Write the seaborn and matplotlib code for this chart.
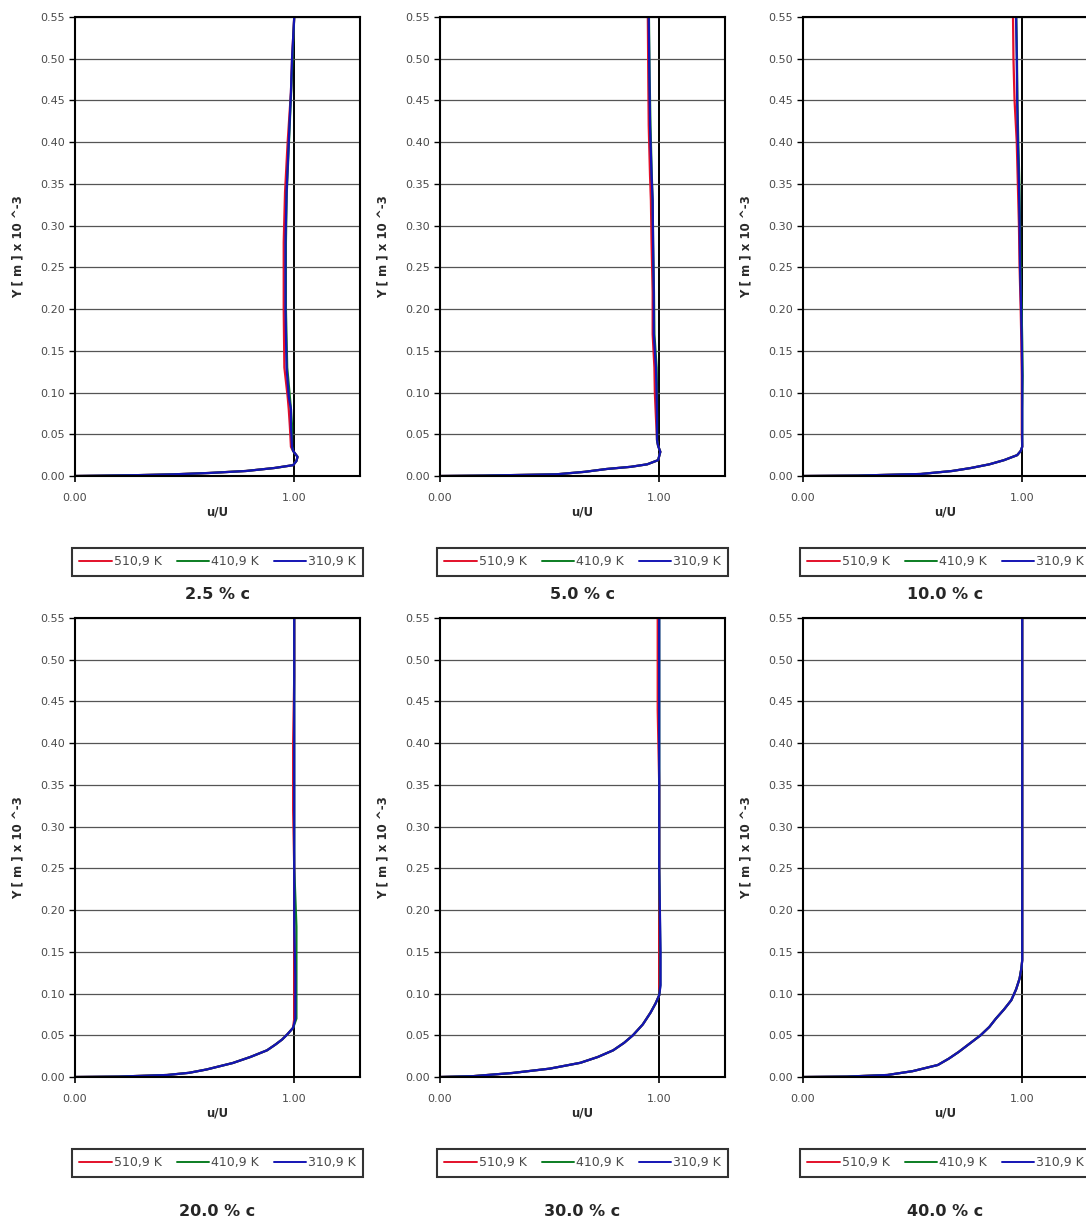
import matplotlib
matplotlib.use("Agg")
import matplotlib.pyplot as plt
from matplotlib.lines import Line2D
import pandas as pd
import seaborn as sns

# ---- data: boundary-layer velocity profiles u/U vs. Y at six chord stations ----
temperatures = ["510,9 K", "410,9 K", "310,9 K"]
line_colors = ["#e3102a", "#0b7d22", "#1414b4"]

stations = ["2.5 % c", "5.0 % c", "10.0 % c", "20.0 % c", "30.0 % c", "40.0 % c"]

y_025 = [0, 0.0004, 0.001, 0.002, 0.0036, 0.006, 0.0096, 0.013, 0.018, 0.023, 0.030,
         0.035, 0.06, 0.08, 0.095, 0.13, 0.20, 0.28, 0.34, 0.40, 0.46, 0.50, 0.55]
u_025_510 = [0, 0.12, 0.28, 0.45, 0.61, 0.78, 0.91, 0.995, 1.01, 1.015, 0.995,
             0.985, 0.98, 0.975, 0.97, 0.955, 0.952, 0.952, 0.958, 0.97, 0.985, 0.99, 1.0]
u_025_410 = [0, 0.12, 0.28, 0.45, 0.61, 0.78, 0.91, 0.995, 1.01, 1.015, 0.995,
             0.99, 0.99, 0.985, 0.98, 0.968, 0.962, 0.962, 0.966, 0.976, 0.986, 0.992, 1.0]
u_025_310 = [0, 0.12, 0.28, 0.45, 0.61, 0.78, 0.91, 0.995, 1.01, 1.015, 0.995,
             0.99, 0.985, 0.985, 0.975, 0.965, 0.96, 0.96, 0.965, 0.975, 0.985, 0.99, 1.0]

y_050 = [0, 0.0005, 0.002, 0.005, 0.0084, 0.011, 0.014, 0.019, 0.024, 0.029, 0.036,
         0.043, 0.07, 0.10, 0.13, 0.17, 0.22, 0.28, 0.33, 0.36, 0.42, 0.48, 0.55]
u_050_510 = [0, 0.2, 0.53, 0.66, 0.76, 0.87, 0.945, 0.995, 1.0, 1.005, 0.995,
             0.99, 0.985, 0.98, 0.978, 0.97, 0.97, 0.965, 0.962, 0.958, 0.952, 0.95, 0.948]
u_050_410 = [0, 0.2, 0.53, 0.66, 0.76, 0.87, 0.945, 0.995, 1.0, 1.005, 0.995,
             0.99, 0.99, 0.99, 0.988, 0.978, 0.976, 0.972, 0.97, 0.966, 0.96, 0.956, 0.953]
u_050_310 = [0, 0.2, 0.53, 0.66, 0.76, 0.87, 0.945, 0.995, 1.0, 1.005, 0.995,
             0.99, 0.99, 0.988, 0.985, 0.975, 0.975, 0.972, 0.97, 0.965, 0.958, 0.955, 0.952]

y_100 = [0, 0.0005, 0.0024, 0.006, 0.0096, 0.014, 0.019, 0.025, 0.030, 0.035, 0.05,
         0.08, 0.12, 0.16, 0.20, 0.25, 0.30, 0.35, 0.40, 0.45, 0.50, 0.55]
u_100_510 = [0, 0.25, 0.537, 0.68, 0.766, 0.85, 0.917, 0.977, 0.993, 1.0, 0.998,
             0.998, 0.998, 0.996, 0.993, 0.988, 0.985, 0.98, 0.975, 0.965, 0.96, 0.958]
u_100_410 = [0, 0.25, 0.537, 0.68, 0.766, 0.85, 0.917, 0.977, 0.993, 1.0, 1.0,
             1.0, 1.002, 1.0, 0.997, 0.992, 0.99, 0.987, 0.982, 0.978, 0.976, 0.973]
u_100_310 = [0, 0.25, 0.537, 0.68, 0.766, 0.85, 0.917, 0.977, 0.993, 1.0, 1.0,
             1.0, 1.0, 0.998, 0.995, 0.99, 0.988, 0.985, 0.98, 0.977, 0.975, 0.972]

y_200 = [0, 0.0005, 0.0024, 0.005, 0.009, 0.0168, 0.024, 0.032, 0.039, 0.045, 0.051,
         0.056, 0.059, 0.07, 0.12, 0.18, 0.25, 0.32, 0.40, 0.48, 0.55]
u_200_510 = [0, 0.2, 0.42, 0.52, 0.6, 0.72, 0.80, 0.876, 0.915, 0.945, 0.968,
             0.985, 0.995, 1.0, 1.0, 1.0, 1.0, 0.995, 0.995, 1.0, 1.0]
u_200_410 = [0, 0.2, 0.42, 0.52, 0.6, 0.72, 0.80, 0.876, 0.915, 0.945, 0.968,
             0.985, 0.995, 1.01, 1.01, 1.01, 1.0, 1.0, 1.0, 1.0, 1.0]
u_200_310 = [0, 0.2, 0.42, 0.52, 0.6, 0.72, 0.80, 0.876, 0.915, 0.945, 0.968,
             0.985, 0.995, 1.005, 1.005, 1.0, 1.0, 1.0, 1.0, 1.0, 1.0]

y_300 = [0, 0.001, 0.0048, 0.010, 0.017, 0.024, 0.032, 0.041, 0.05, 0.063, 0.077,
         0.088, 0.098, 0.11, 0.15, 0.25, 0.35, 0.44, 0.50, 0.55]
u_300_510 = [0, 0.15, 0.33, 0.5, 0.64, 0.72, 0.79, 0.84, 0.88, 0.925, 0.96,
             0.983, 1.0, 1.0, 1.0, 1.0, 1.0, 0.993, 0.993, 0.993]
u_300_410 = [0, 0.15, 0.33, 0.5, 0.64, 0.72, 0.79, 0.84, 0.88, 0.925, 0.96,
             0.983, 1.0, 1.005, 1.005, 1.0, 1.0, 1.0, 1.0, 1.0]
u_300_310 = [0, 0.15, 0.33, 0.5, 0.64, 0.72, 0.79, 0.84, 0.88, 0.925, 0.96,
             0.983, 1.0, 1.006, 1.006, 1.0, 1.0, 1.0, 1.0, 1.0]

y_400 = [0, 0.0005, 0.0024, 0.007, 0.0144, 0.022, 0.03, 0.04, 0.05, 0.06, 0.07,
         0.081, 0.092, 0.105, 0.118, 0.13, 0.14, 0.25, 0.40, 0.55]
u_400_510 = [0, 0.2, 0.385, 0.5, 0.615, 0.665, 0.71, 0.76, 0.81, 0.85, 0.88,
             0.917, 0.95, 0.972, 0.988, 0.996, 1.0, 1.0, 1.0, 1.0]
u_400_410 = [0, 0.2, 0.385, 0.5, 0.615, 0.665, 0.71, 0.76, 0.81, 0.85, 0.88,
             0.917, 0.95, 0.972, 0.988, 0.996, 1.0, 1.0, 1.0, 1.0]
u_400_310 = [0, 0.2, 0.385, 0.5, 0.615, 0.665, 0.71, 0.76, 0.81, 0.85, 0.88,
             0.917, 0.95, 0.972, 0.988, 0.996, 1.0, 1.0, 1.0, 1.0]

profiles = [
    (y_025, [u_025_510, u_025_410, u_025_310]),
    (y_050, [u_050_510, u_050_410, u_050_310]),
    (y_100, [u_100_510, u_100_410, u_100_310]),
    (y_200, [u_200_510, u_200_410, u_200_310]),
    (y_300, [u_300_510, u_300_410, u_300_310]),
    (y_400, [u_400_510, u_400_410, u_400_310]),
]

y_ticks = [0.00, 0.05, 0.10, 0.15, 0.20, 0.25, 0.30, 0.35, 0.40, 0.45, 0.50, 0.55]
x_ticks = [0.0, 1.0]

# ---- styling ----
sns.set_theme(style="white")
plt.rcParams["font.family"] = ["DejaVu Sans"]

W, H = 1086, 1226
fig = plt.figure(figsize=(W / 100, H / 100), dpi=100)
fig.patch.set_facecolor("white")

ax_w, ax_h = 285, 459
lefts = [75, 440, 803]
tops = [17, 618]
title_offsets = [-0.259, -0.294]

palette = dict(zip(temperatures, line_colors))
tick_color = "#4a4a4a"

for i, (station, (ys, us)) in enumerate(zip(stations, profiles)):
    row, col = divmod(i, 3)
    left, top = lefts[col], tops[row]
    ax = fig.add_axes([left / W, 1 - (top + ax_h) / H, ax_w / W, ax_h / H])

    frames = []
    for temp, u in zip(temperatures, us):
        frames.append(pd.DataFrame({"u": u, "y": ys, "T": temp}))
    df = pd.concat(frames, ignore_index=True)

    sns.lineplot(data=df, x="u", y="y", hue="T", hue_order=temperatures,
                 palette=palette, sort=False, estimator=None, units="T",
                 linewidth=1.6, legend=False, ax=ax)

    ax.set_xlim(0, 1.30)
    ax.set_ylim(0, 0.55)
    ax.set_xticks(x_ticks)
    ax.set_xticklabels([f"{v:.2f}" for v in x_ticks])
    ax.set_yticks(y_ticks)
    ax.set_yticklabels([f"{v:.2f}" for v in y_ticks])

    ax.grid(axis="y", color="#555555", linewidth=0.9)
    ax.grid(axis="x", color="black", linewidth=1.4)
    ax.set_axisbelow(True)

    for sp in ax.spines.values():
        sp.set_color("black")
        sp.set_linewidth(1.5)

    ax.tick_params(axis="y", which="major", left=True, length=4, width=1.0,
                   color="black", labelsize=8, labelcolor=tick_color, pad=3)
    ax.tick_params(axis="x", which="major", bottom=True, length=4, width=1.2,
                   color="black", labelsize=8, labelcolor=tick_color, pad=8.5)

    ax.set_xlabel("u/U", fontsize=8.5, fontweight="bold", color="#2a2a2a")
    ax.xaxis.set_label_coords(0.5, -0.079)
    ax.xaxis.label.set_va("center")
    ax.set_ylabel("Y [ m ] x 10 ^-3", fontsize=8.5, fontweight="bold", color="#2a2a2a")
    ax.yaxis.set_label_coords(-0.2, 0.5)
    ax.yaxis.label.set_va("center")

    handles = [Line2D([], [], color=c, linewidth=1.4) for c in line_colors]
    leg = ax.legend(handles, temperatures, loc="center", bbox_to_anchor=(0.5, -0.187),
                    ncol=3, frameon=True, fancybox=False, fontsize=9,
                    handlelength=2.6, handletextpad=0.15, columnspacing=1.2,
                    borderpad=0.6, borderaxespad=0)
    leg.get_frame().set_edgecolor("black")
    leg.get_frame().set_linewidth(1.5)
    for t in leg.get_texts():
        t.set_color(tick_color)

    ax.text(0.5, title_offsets[row], station, transform=ax.transAxes,
            ha="center", va="center", fontsize=11.5, fontweight="bold", color="#262626")

fig.savefig("out.png", dpi=100, facecolor="white")
